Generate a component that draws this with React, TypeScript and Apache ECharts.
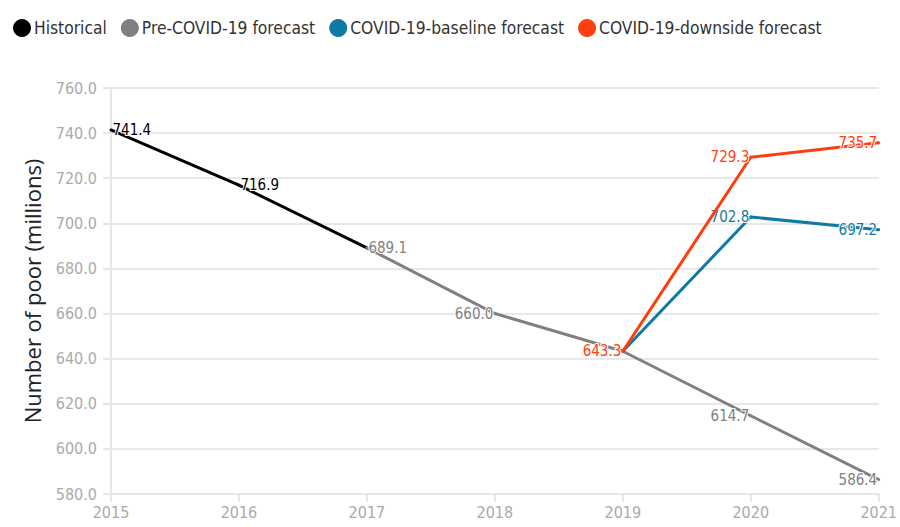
import React, { useEffect, useRef } from "react";
import * as echarts from "echarts";

const years = ["2015", "2016", "2017", "2018", "2019", "2020", "2021"];
const historical = [741.4, 716.9, 689.1, null, null, null, null];
const preCovid = [null, null, 689.1, 660.0, 643.3, 614.7, 586.4];
const baseline = [null, null, null, null, 643.3, 702.8, 697.2];
const downside = [null, null, null, null, 643.3, 729.3, 735.7];
const yTicks = { min: 580, max: 760, interval: 20 };

const NARROW = "'DejaVu Sans Condensed', 'Noto Sans', sans-serif";

const C_HIST = "#000000";
const C_PRE = "#808080";
const C_BASE = "#0e7ba3";
const C_DOWN = "#ff3d0f";

// label placement per point: "r" = label to the right, "l" = to the left, "" = hidden
const histLabelPos = ["r", "r", "", "", "", "", ""];
const preLabelPos = ["", "", "r", "l", "", "l", "l"];
const baseLabelPos = ["", "", "", "", "", "l", "l"];
const downLabelPos = ["", "", "", "", "l", "l", "l"];

function buildData(vals: (number | null)[], pos: string[], color: string) {
  return vals.map((v, i) => {
    if (v === null) return "-";
    const p = pos[i];
    return {
      value: v,
      label: {
        show: p !== "",
        position: p === "r" ? "right" : "left",
        distance: 0,
        color,
      },
    };
  });
}

function makeSeries(name: string, vals: (number | null)[], pos: string[], color: string, z: number) {
  return {
    name,
    type: "line",
    data: buildData(vals, pos, color),
    symbol: "circle",
    symbolSize: 3,
    showSymbol: true,
    itemStyle: { color },
    lineStyle: { color, width: 3 },
    z,
    label: {
      fontFamily: NARROW,
      fontSize: 15,
      textBorderColor: "#ffffff",
      textBorderWidth: 2,
      formatter: (p: any) => Number(p.value).toFixed(1),
    },
  };
}

export default function App() {
  const ref = useRef<HTMLDivElement>(null);
  useEffect(() => {
    if (!ref.current) return;
    const chart = echarts.init(ref.current, undefined, { renderer: "svg" });
    chart.setOption({
      animation: false,
      backgroundColor: "#ffffff",
      legend: {
        top: 14,
        left: 8,
        itemWidth: 18,
        itemHeight: 18,
        itemGap: 14,
        icon: "circle",
        textStyle: { fontFamily: NARROW, fontSize: 17.3, color: "#333333", padding: [0, 0, 0, -2] },
        data: [
          { name: "Historical", itemStyle: { color: C_HIST } },
          { name: "Pre-COVID-19 forecast", itemStyle: { color: C_PRE } },
          { name: "COVID-19-baseline forecast", itemStyle: { color: C_BASE } },
          { name: "COVID-19-downside forecast", itemStyle: { color: C_DOWN } },
        ],
      },
      grid: { left: 111, right: 16, top: 88, bottom: 33 },
      xAxis: {
        type: "category",
        data: years,
        boundaryGap: false,
        axisLine: { show: true, lineStyle: { color: "#e6e6e6", width: 2 } },
        axisTick: { show: true, alignWithLabel: true, length: 8, lineStyle: { color: "#e6e6e6", width: 2 } },
        axisLabel: { color: "#aaaaaa", fontFamily: NARROW, fontSize: 16, margin: 10 },
        splitLine: { show: false },
      },
      yAxis: {
        type: "value",
        min: yTicks.min,
        max: yTicks.max,
        interval: yTicks.interval,
        name: "Number of poor (millions)",
        nameLocation: "middle",
        nameGap: 68,
        nameTextStyle: { fontFamily: "'Open Sans', sans-serif", fontSize: 22, color: "#222222" },
        axisLine: { show: true, lineStyle: { color: "#e6e6e6", width: 2 } },
        axisTick: { show: true, length: 8, lineStyle: { color: "#e6e6e6", width: 2 } },
        axisLabel: {
          color: "#aaaaaa",
          fontFamily: NARROW,
          fontSize: 16,
          margin: 14,
          formatter: (v: number) => v.toFixed(1),
        },
        splitLine: { show: true, lineStyle: { color: "#e8e8e8", width: 2 } },
      },
      series: [
        makeSeries("Historical", historical, histLabelPos, C_HIST, 2),
        makeSeries("Pre-COVID-19 forecast", preCovid, preLabelPos, C_PRE, 3),
        makeSeries("COVID-19-baseline forecast", baseline, baseLabelPos, C_BASE, 4),
        makeSeries("COVID-19-downside forecast", downside, downLabelPos, C_DOWN, 5),
      ],
    });
    return () => chart.dispose();
  }, []);
  return <div ref={ref} style={{ width: 900, height: 527, position: "absolute", left: 0, top: 0 }} />;
}
